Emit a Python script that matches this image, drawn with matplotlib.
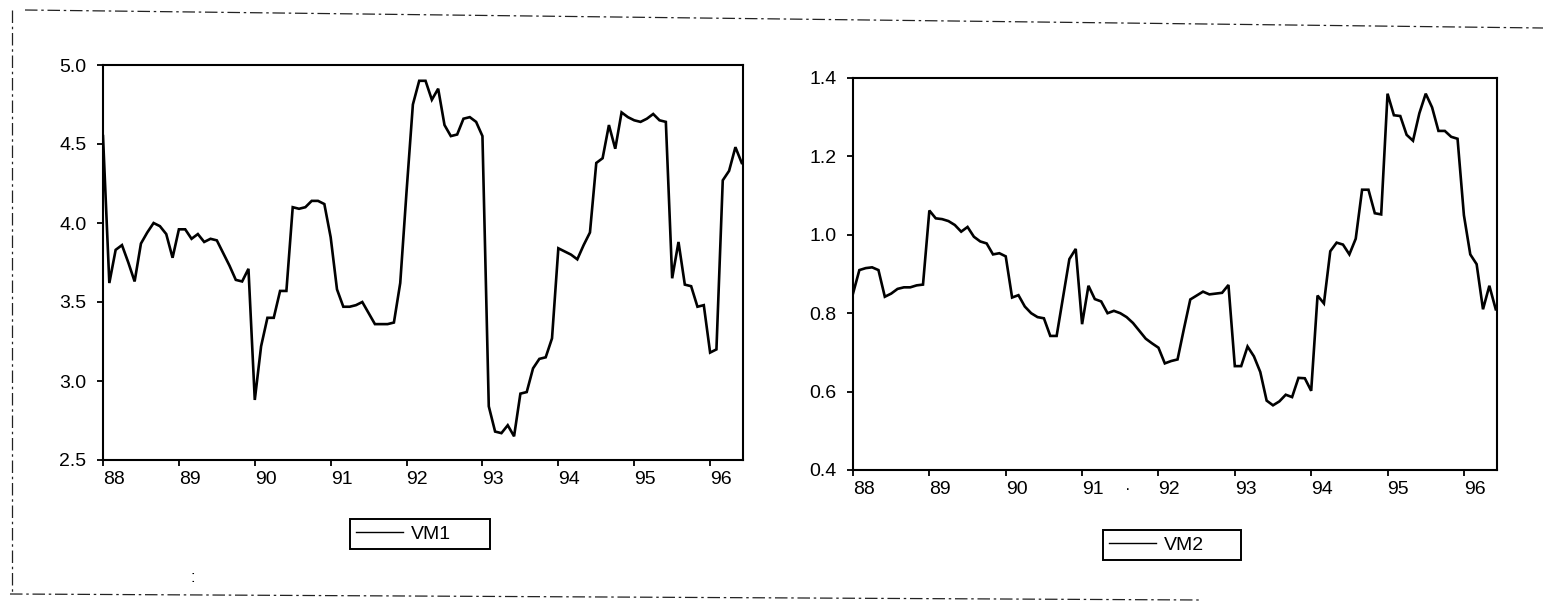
import numpy as np
import matplotlib
matplotlib.use("Agg")
import matplotlib.pyplot as plt
from matplotlib.lines import Line2D

plt.rcParams['font.family'] = ['Liberation Sans', 'DejaVu Sans']

# ---------------- data (monthly, 88:01 - 96:06) ----------------
year_labels = ['88', '89', '90', '91', '92', '93', '94', '95', '96']

vm1 = [4.55, 3.62, 3.83, 3.86, 3.75, 3.63, 3.87, 3.94, 4.00, 3.98, 3.93, 3.78,
       3.96, 3.96, 3.90, 3.93, 3.88, 3.90, 3.89, 3.81, 3.73, 3.64, 3.63, 3.71,
       2.88, 3.22, 3.40, 3.40, 3.57, 3.57, 4.10, 4.09, 4.10, 4.14, 4.14, 4.12,
       3.91, 3.58, 3.47, 3.47, 3.48, 3.50, 3.43, 3.36, 3.36, 3.36, 3.37, 3.62,
       4.20, 4.75, 4.90, 4.90, 4.78, 4.85, 4.62, 4.55, 4.56, 4.66, 4.67, 4.64,
       4.55, 2.84, 2.68, 2.67, 2.72, 2.65, 2.92, 2.93, 3.08, 3.14, 3.15, 3.27,
       3.84, 3.82, 3.80, 3.77, 3.86, 3.94, 4.38, 4.41, 4.62, 4.47, 4.70, 4.67,
       4.65, 4.64, 4.66, 4.69, 4.65, 4.64, 3.65, 3.88, 3.61, 3.60, 3.47, 3.48,
       3.18, 3.20, 4.27, 4.33, 4.48, 4.38]

vm2 = [0.850, 0.910, 0.915, 0.917, 0.910, 0.842, 0.850, 0.862, 0.866, 0.866, 0.871, 0.873,
       1.062, 1.042, 1.040, 1.035, 1.025, 1.008, 1.020, 0.995, 0.983, 0.978, 0.950, 0.953,
       0.945, 0.840, 0.846, 0.817, 0.800, 0.790, 0.787, 0.742, 0.742, 0.840, 0.938, 0.964,
       0.772, 0.870, 0.836, 0.830, 0.800, 0.806, 0.800, 0.790, 0.775, 0.755, 0.735, 0.723,
       0.712, 0.672, 0.678, 0.682, 0.760, 0.835, 0.845, 0.855, 0.848, 0.850, 0.852, 0.872,
       0.665, 0.665, 0.715, 0.690, 0.650, 0.577, 0.565, 0.575, 0.592, 0.586, 0.635, 0.634,
       0.602, 0.845, 0.825, 0.958, 0.980, 0.975, 0.950, 0.990, 1.115, 1.115, 1.055, 1.052,
       1.360, 1.305, 1.303, 1.255, 1.240, 1.310, 1.360, 1.325, 1.265, 1.265, 1.250, 1.245,
       1.050, 0.950, 0.925, 0.810, 0.870, 0.810]

vm1_yticks = [2.5, 3.0, 3.5, 4.0, 4.5, 5.0]
vm2_yticks = [0.4, 0.6, 0.8, 1.0, 1.2, 1.4]

months = np.arange(len(vm1))
year_ticks = np.arange(len(year_labels)) * 12

# ---------------- figure ----------------
W, H = 1543, 609
fig = plt.figure(figsize=(W / 100, H / 100), dpi=100)
fig.patch.set_facecolor('white')


def fx(px):
    return px / W


def fy(py):
    return 1 - py / H


ax1 = fig.add_axes([fx(103), fy(460), fx(743) - fx(103), fy(65) - fy(460)])
ax2 = fig.add_axes([fx(853), fy(470), fx(1497) - fx(853), fy(78) - fy(470)])

panels = [(ax1, vm1, vm1_yticks, 'VM1', '%.1f'),
          (ax2, vm2, vm2_yticks, 'VM2', '%.1f')]

for ax, series, yt, name, fmt in panels:
    ax.plot(months, series, color='black', lw=1.9, solid_joinstyle='miter')
    ax.set_xlim(0, 101.2)
    ax.set_ylim(yt[0], yt[-1])
    ax.set_yticks(yt)
    ax.set_yticklabels([fmt % v for v in yt])
    ax.set_xticks(year_ticks)
    ax.set_xticklabels(year_labels, ha='left')
    ax.tick_params(axis='both', direction='out', length=4, width=1.3,
                   labelsize=14, colors='black')
    ax.tick_params(axis='y', pad=8)
    ax.tick_params(axis='x', pad=4)
    for sp in ax.spines.values():
        sp.set_linewidth(1.5)
        sp.set_color('black')

# legends
leg_boxes = {
    'VM1': (350, 550, 140, 32),
    'VM2': (1103, 560, 138, 30),
}
for ax, series, yt, name, fmt in panels:
    x0, ybot, w, h = leg_boxes[name]
    handle = Line2D([], [], color='black', lw=1.0)
    leg = fig.legend([handle], [name], loc='center',
                     bbox_to_anchor=(fx(x0), fy(ybot), fx(w), h / H),
                     bbox_transform=fig.transFigure, mode='expand',
                     fancybox=False, shadow=False, framealpha=1,
                     edgecolor='black', fontsize=14, handlelength=2.4,
                     handletextpad=0.45, borderpad=0.3, borderaxespad=0)
    leg.get_frame().set_linewidth(1.4)

# scanned page frame (dashed)
frame_kw = dict(color='#222222', lw=0.9, linestyle=(0, (10, 3, 2, 3)),
                transform=fig.transFigure)
fig.add_artist(Line2D([fx(12), fx(12)], [fy(10), fy(594)], **frame_kw))
fig.add_artist(Line2D([fx(25), fx(1543)], [fy(10), fy(28)], **frame_kw))
fig.add_artist(Line2D([fx(10), fx(1200)], [fy(594), fy(600)], **frame_kw))

fig.text(fx(193), fy(578), ':', fontsize=12, ha='center', va='center')
fig.text(fx(1128), fy(489), '\u00b7', fontsize=12, ha='center', va='center')

fig.savefig('out.png', dpi=100, facecolor='white')
